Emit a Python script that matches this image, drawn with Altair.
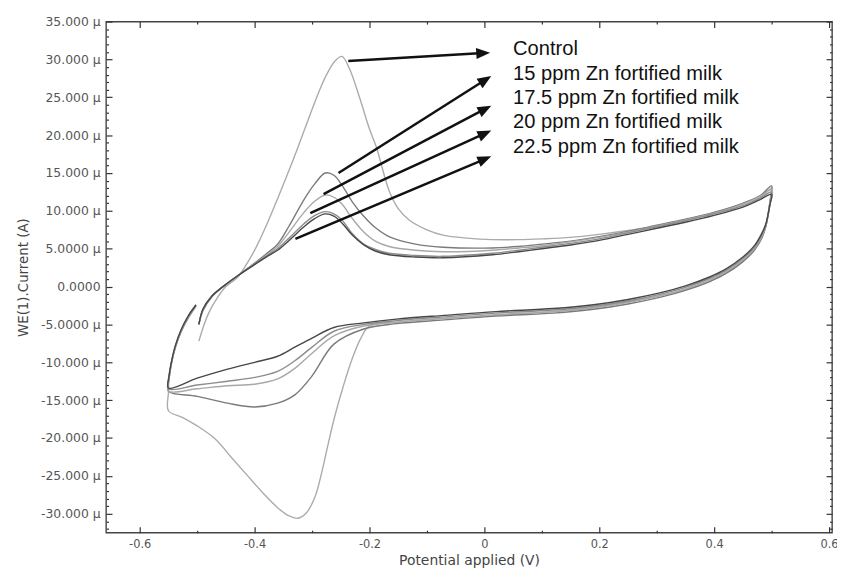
import math
import altair as alt
import pandas as pd

series = ["Control", "15 ppm Zn fortified milk", "17.5 ppm Zn fortified milk",
          "20 ppm Zn fortified milk", "22.5 ppm Zn fortified milk"]
colors = ["#ababab", "#7a7a7a", "#a8a8a8", "#8c8c8c", "#474747"]

# ---- Control (potential V, current uA) ----
ctrl_fwd_E = [-0.497, -0.49, -0.48, -0.465, -0.45, -0.43, -0.417, -0.40, -0.38, -0.36, -0.33,
              -0.303, -0.285, -0.274, -0.26, -0.248, -0.235, -0.217, -0.2, -0.188, -0.166,
              -0.15, -0.131, -0.1, -0.072, -0.03, 0.014, 0.06, 0.1, 0.15, 0.2,
              0.25, 0.3, 0.35, 0.4, 0.45, 0.48, 0.5]
ctrl_fwd_I = [-7.2, -5.5, -3.5, -1.5, 0.0, 1.2, 2.6, 4.8, 8.0, 11.6, 17.3,
              22.8, 26.3, 28.1, 29.8, 30.4, 28.8, 24.9, 20.8, 18.4, 12.7,
              10.3, 8.8, 7.5, 6.8, 6.4, 6.2, 6.2, 6.3, 6.5, 6.9,
              7.4, 8.0, 8.8, 9.8, 11.0, 12.0, 13.0]
ctrl_rev_E = [0.5, 0.497, 0.49, 0.48, 0.46, 0.43, 0.39, 0.34, 0.3, 0.25,
              0.19, 0.12, 0.02, -0.07, -0.15, -0.2, -0.215, -0.23, -0.245, -0.26,
              -0.272, -0.283, -0.295, -0.31, -0.325, -0.34, -0.36, -0.385, -0.412, -0.44,
              -0.469, -0.50, -0.525, -0.55]
ctrl_rev_I = [13.0, 11.0, 8.0, 6.0, 4.0, 2.2, 0.6, -0.6, -1.3, -2.0,
              -2.8, -3.3, -3.8, -4.2, -4.7, -5.2, -6.8, -9.5, -13.0, -17.0,
              -20.8, -24.5, -27.8, -29.9, -30.6, -30.3, -29.2, -27.3, -25.0, -22.6,
              -20.1, -18.4, -17.3, -16.4]
ctrl_ret_E = [-0.55, -0.549, -0.545, -0.538, -0.528, -0.515, -0.502]
ctrl_ret_I = [-14.0, -12.3, -10.3, -8.1, -6.0, -4.1, -2.6]

# ---- Zn fortified samples: shared potential grids ----
fwd_E = [-0.497, -0.49, -0.475, -0.455, -0.43, -0.40, -0.38, -0.36, -0.34, -0.314,
         -0.295, -0.277, -0.262, -0.248, -0.23, -0.21, -0.19, -0.166, -0.12, -0.072,
         0.014, 0.06, 0.1, 0.15, 0.2, 0.25, 0.3, 0.35, 0.4, 0.45, 0.48, 0.5]
rev_E = [0.497, 0.49, 0.484, 0.47, 0.45, 0.42, 0.393, 0.35, 0.307, 0.25,
         0.19, 0.12, 0.02, -0.07, -0.153, -0.21, -0.262, -0.30, -0.33, -0.36,
         -0.40, -0.447, -0.50, -0.55]
ret_E = [-0.549, -0.545, -0.538, -0.528, -0.515, -0.502]

s15_fwd_I = [-5.0, -3.2, -1.4, 0.0, 1.4, 3.1, 4.3, 5.6, 8.0, 11.5,
             13.6, 15.0, 14.7, 13.4, 11.2, 9.3, 7.8, 6.6, 5.6, 5.2,
             5.1, 5.3, 5.6, 6.0, 6.6, 7.3, 8.1, 8.9, 9.8, 11.0, 12.0, 13.3]
s15_rev_I = [11.2, 8.0, 6.6, 4.8, 3.3, 1.7, 0.7, -0.5, -1.4, -2.3,
             -3.0, -3.5, -3.9, -4.4, -4.9, -5.6, -7.6, -11.8, -14.3, -15.4,
             -15.9, -15.4, -14.5, -13.8]
s15_ret_I = [-12.2, -10.2, -8.0, -5.9, -4.0, -2.5]

s175_fwd_I = [-5.0, -3.1, -1.35, 0.0, 1.4, 3.0, 4.1, 5.3, 7.2, 9.8,
              11.3, 12.1, 11.8, 10.9, 9.0, 7.2, 6.0, 5.3, 4.8, 4.6,
              4.8, 5.1, 5.4, 5.9, 6.5, 7.2, 8.0, 8.8, 9.7, 10.9, 11.9, 12.8]
s175_rev_I = [11.0, 8.0, 6.8, 5.0, 3.5, 1.9, 0.9, -0.3, -1.2, -2.1,
              -2.8, -3.3, -3.7, -4.2, -4.7, -5.2, -6.5, -8.8, -10.8, -12.2,
              -12.9, -13.1, -13.5, -13.8]
s175_ret_I = [-12.2, -10.2, -8.0, -5.9, -4.0, -2.5]

s20_fwd_I = [-5.0, -3.0, -1.3, 0.0, 1.4, 3.0, 4.0, 5.0, 6.4, 8.3,
             9.4, 9.9, 9.6, 8.8, 7.0, 5.6, 4.9, 4.4, 4.1, 4.0,
             4.4, 4.8, 5.2, 5.7, 6.3, 7.1, 7.9, 8.7, 9.6, 10.7, 11.7, 12.5]
s20_rev_I = [10.8, 8.1, 7.0, 5.2, 3.7, 2.1, 1.1, -0.1, -1.0, -1.9,
             -2.6, -3.1, -3.5, -4.0, -4.5, -5.0, -5.9, -8.0, -9.8, -11.2,
             -12.0, -12.5, -13.0, -13.5]
s20_ret_I = [-12.0, -10.1, -7.9, -5.8, -3.9, -2.5]

s225_fwd_I = [-5.0, -3.0, -1.3, 0.0, 1.4, 2.9, 3.9, 4.8, 6.1, 7.9,
              9.0, 9.6, 9.3, 8.4, 6.8, 5.5, 4.7, 4.2, 3.9, 3.8,
              4.2, 4.6, 5.0, 5.5, 6.1, 6.9, 7.7, 8.5, 9.4, 10.5, 11.5, 12.2]
s225_rev_I = [10.8, 8.3, 7.2, 5.4, 3.9, 2.3, 1.3, 0.1, -0.8, -1.7,
              -2.4, -2.9, -3.3, -3.8, -4.3, -4.8, -5.4, -6.8, -8.0, -9.2,
              -10.0, -10.9, -12.1, -13.4]
s225_ret_I = [-11.8, -10.0, -7.8, -5.7, -3.8, -2.4]

# ---- annotation arrows & labels ----
arrow_from_E = [-0.237, -0.254, -0.280, -0.303, -0.329]
arrow_from_I = [29.8, 15.0, 12.2, 9.7, 6.3]
arrow_to_E = [0.010, 0.012, 0.012, 0.012, 0.012]
arrow_to_I = [30.9, 27.8, 23.9, 20.6, 17.2]
label_E = [0.050, 0.050, 0.050, 0.050, 0.050]
label_I = [30.6, 27.3, 24.15, 20.9, 17.7]

x_ticks = [-0.6, -0.5, -0.4, -0.3, -0.2, -0.1, 0.0, 0.1, 0.2, 0.3, 0.4, 0.5, 0.6]
y_ticks = list(range(-32, 36))

X_DOM = [-0.6586, 0.6052]
Y_DOM = [-32.5, 35.0]
W, H = 733, 516

curves = {
    series[0]: (ctrl_fwd_E + ctrl_rev_E + ctrl_ret_E, ctrl_fwd_I + ctrl_rev_I + ctrl_ret_I),
    series[1]: (fwd_E + rev_E + ret_E, s15_fwd_I + s15_rev_I + s15_ret_I),
    series[2]: (fwd_E + rev_E + ret_E, s175_fwd_I + s175_rev_I + s175_ret_I),
    series[3]: (fwd_E + rev_E + ret_E, s20_fwd_I + s20_rev_I + s20_ret_I),
    series[4]: (fwd_E + rev_E + ret_E, s225_fwd_I + s225_rev_I + s225_ret_I),
}
rows = []
for name in series:
    Es, Is = curves[name]
    for k, (e, i) in enumerate(zip(Es, Is)):
        rows.append({"series": name, "E": e, "I": i, "idx": k})
df = pd.DataFrame(rows)

pxV = W / (X_DOM[1] - X_DOM[0])
pxI = H / (Y_DOM[1] - Y_DOM[0])
arows, hrows = [], []
for fe, fi, te, ti in zip(arrow_from_E, arrow_from_I, arrow_to_E, arrow_to_I):
    dxp = (te - fe) * pxV
    dyp = -(ti - fi) * pxI
    L = math.hypot(dxp, dyp)
    ux, uy = dxp / L, dyp / L
    ang = math.degrees(math.atan2(dyp, dxp)) % 360
    arows.append({"E": fe, "I": fi, "E2": te - ux * 7 / pxV, "I2": ti + uy * 7 / pxI})
    hrows.append({"E": te, "I": ti, "angle": ang})
arrow_df = pd.DataFrame(arows)
head_df = pd.DataFrame(hrows)
text_df = pd.DataFrame({"E": label_E, "I": label_I, "label": series})

xs = alt.Scale(domain=X_DOM, nice=False, zero=False)
ys = alt.Scale(domain=Y_DOM, nice=False, zero=False)

x_tick_expr = alt.ExprRef(expr="round(datum.value*10) % 2 == 0 ? -6 : -2.5")
y_tick_expr = alt.ExprRef(expr="round(datum.value) % 5 == 0 ? -6 : -2.5")

common = dict(domain=False, grid=False, tickColor="#333", tickWidth=1.2,
              labelOverlap=False, labelFlush=False)

x_axis = alt.Axis(
    orient="bottom", values=x_ticks, tickSize=x_tick_expr,
    labelExpr="round(datum.value*10) % 2 != 0 ? '' : (abs(datum.value) < 0.001 ? '0' : replace(format(datum.value, '.1f'), '\u2212', '-'))",
    labelFont="DejaVu Sans", labelFontSize=11.5, labelColor="#555", labelPadding=12,
    title="Potential applied (V)", titleFont="DejaVu Sans", titleFontSize=14,
    titleFontWeight="normal", titleColor="#444", titleY=32, titleBaseline="alphabetic",
    **common)
y_axis = alt.Axis(
    orient="left", values=y_ticks, tickSize=y_tick_expr,
    labelExpr="round(datum.value) % 5 != 0 ? '' : (datum.value == 0 ? '0.0000' : replace(format(datum.value, abs(datum.value) >= 10 ? '.3f' : '.4f'), '\u2212', '-') + ' \u03bc')",
    labelFont="DejaVu Sans", labelFontSize=12.5, labelColor="#555", labelPadding=12,
    title="WE(1).Current (A)", titleFont="DejaVu Sans", titleFontSize=13.5,
    titleFontWeight="normal", titleColor="#444", titleX=-79, titleY=H / 2,
    titleBaseline="alphabetic", titleAngle=270,
    **common)
x_axis_top = alt.Axis(orient="top", values=x_ticks, tickSize=x_tick_expr, labels=False,
                      title=None, **common)
y_axis_right = alt.Axis(orient="right", values=y_ticks, tickSize=y_tick_expr, labels=False,
                        title=None, **common)

lines = alt.Chart(df).mark_line(strokeWidth=1.4, interpolate="catmull-rom").encode(
    x=alt.X("E:Q", scale=xs, axis=x_axis),
    y=alt.Y("I:Q", scale=ys, axis=y_axis),
    color=alt.Color("series:N", scale=alt.Scale(domain=series, range=colors), legend=None),
    order=alt.Order("idx:Q"),
)

arrows = alt.Chart(arrow_df).mark_rule(color="#111", strokeWidth=2.5).encode(
    x=alt.X("E:Q", scale=xs, axis=x_axis_top),
    y=alt.Y("I:Q", scale=ys, axis=y_axis_right),
    x2="E2:Q", y2="I2:Q",
)

heads = alt.Chart(head_df).mark_point(
    shape="M0,0L-2,-0.8L-2,0.8Z", filled=True, fill="#111", stroke=None, opacity=1, size=196
).encode(
    x=alt.X("E:Q", scale=xs, axis=None),
    y=alt.Y("I:Q", scale=ys, axis=None),
    angle=alt.Angle("angle:Q", scale=None),
)

texts = alt.Chart(text_df).mark_text(
    font="Liberation Sans", fontSize=20.3, color="#111", align="left", baseline="alphabetic"
).encode(
    x=alt.X("E:Q", scale=xs, axis=None),
    y=alt.Y("I:Q", scale=ys, axis=None),
    text="label:N",
)

chart = alt.layer(lines, arrows, heads, texts).resolve_axis(
    x="independent", y="independent"
).properties(
    width=W, height=H,
    autosize=alt.AutoSizeParams(type="none"),
    padding={"left": 99, "top": 11, "right": 5, "bottom": 36},
    background="white",
).configure_view(stroke="#444", strokeWidth=1.4)

chart.save("out.html", embed_options={"renderer": "svg", "actions": False})
